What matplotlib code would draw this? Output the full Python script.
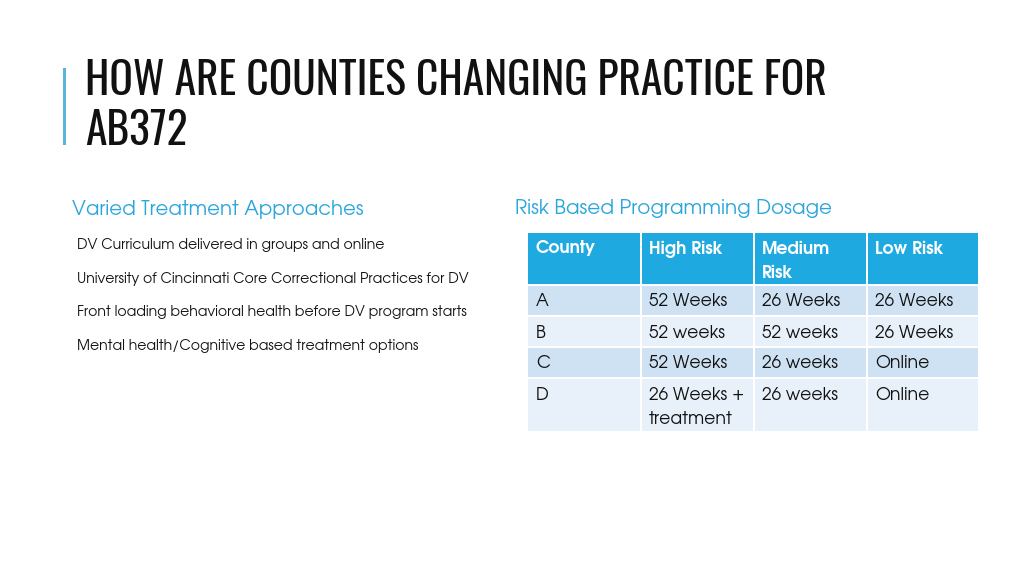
import matplotlib.pyplot as plt
from matplotlib import font_manager
from matplotlib.patches import Rectangle

# slide text
title_lines = ["HOW ARE COUNTIES CHANGING PRACTICE FOR", "AB372"]
left_heading = "Varied Treatment Approaches"
right_heading = "Risk Based Programming Dosage"
approaches = [
    "DV Curriculum delivered in groups and online",
    "University of Cincinnati Core Correctional Practices for DV",
    "Front loading behavioral health before DV program starts",
    "Mental health/Cognitive based treatment options",
]

# table data
columns = ["County", "High Risk", "Medium\nRisk", "Low Risk"]
counties = ["A", "B", "C", "D"]
high_risk = ["52 Weeks", "52 weeks", "52 Weeks", "26 Weeks +\ntreatment"]
medium_risk = ["26 Weeks", "52 weeks", "26 weeks", "26 weeks"]
low_risk = ["26 Weeks", "26 Weeks", "Online", "Online"]

BLUE = "#1fa9e1"
HEAD_BLUE = "#2aa6dc"
ROW_DARK = "#cfe2f3"
ROW_LIGHT = "#e8f1f9"

avail = {f.name for f in font_manager.fontManager.ttflist}
if "Oswald" in avail:
    TITLE_FONT, TITLE_SIZE = ["Oswald", "DejaVu Sans"], 31.3
else:
    TITLE_FONT, TITLE_SIZE = ["DejaVu Sans"], 24
BODY_FONT = ["TeX Gyre Adventor", "DejaVu Sans"]

fig = plt.figure(figsize=(10.24, 5.76), dpi=100)
ax = fig.add_axes([0, 0, 1, 1])
ax.set_xlim(0, 1024)
ax.set_ylim(576, 0)
ax.axis("off")

# title with accent bar
ax.add_patch(Rectangle((63, 68), 2.5, 77, color="#5ab6d8", lw=0))
for i, line in enumerate(title_lines):
    ax.text(85, 95 + i * 50, line, family=TITLE_FONT, fontsize=TITLE_SIZE,
            fontweight="light", color="#111111", va="baseline", ha="left")

# left column
ax.text(72, 215, left_heading, family=BODY_FONT, fontsize=14.2,
        color=HEAD_BLUE, va="baseline")
for i, item in enumerate(approaches):
    ax.text(77, 249.5 + i * 33.4, item, family=BODY_FONT, fontsize=10.1,
            color="#111111", va="baseline")

# right column
ax.text(515, 214, right_heading, family=BODY_FONT, fontsize=14.4,
        color=HEAD_BLUE, va="baseline")

col_edges = [528, 641, 754, 867, 979]
row_edges = [232, 285, 316, 347, 378, 432]
gap = 2

rows = [columns] + [list(r) for r in zip(counties, high_risk, medium_risk, low_risk)]
for r, cells in enumerate(rows):
    y0, y1 = row_edges[r], row_edges[r + 1]
    if r == 0:
        face = BLUE
    else:
        face = ROW_DARK if r % 2 == 1 else ROW_LIGHT
    for c, txt in enumerate(cells):
        x0, x1 = col_edges[c], col_edges[c + 1]
        ax.add_patch(Rectangle((x0 + (gap / 2 if c else 0), y0 + gap / 2),
                               (x1 - x0) - (gap if c else gap / 2), (y1 - y0) - gap,
                               color=face, lw=0))
        ax.text(x0 + 8, y0 + 8.5, txt, family=BODY_FONT, fontsize=12.4,
                color="white" if r == 0 else "#111111",
                fontweight="bold" if r == 0 else "normal",
                va="top", ha="left", linespacing=1.62)

fig.savefig("out.png", dpi=100, facecolor="white")
